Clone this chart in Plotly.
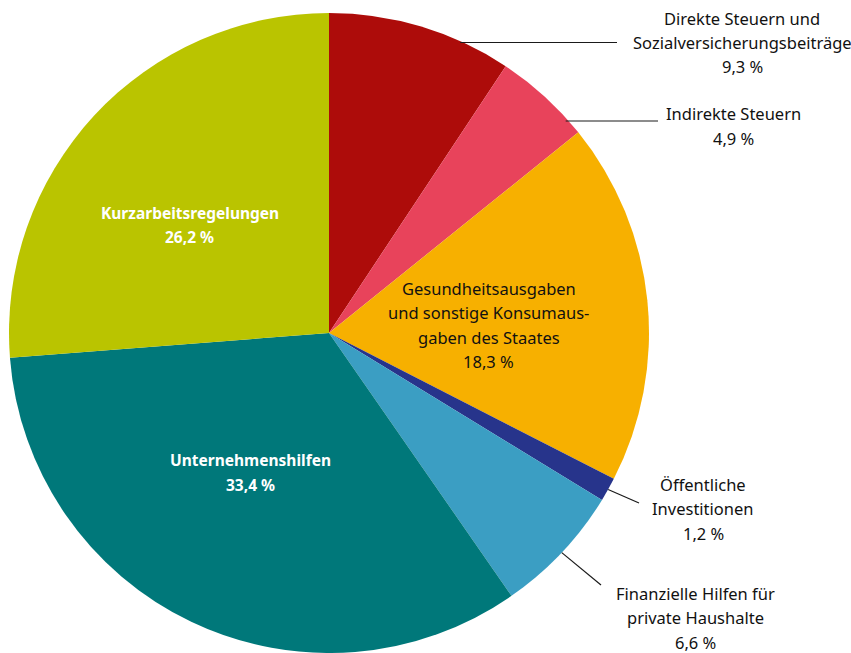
import math
import plotly.graph_objects as go

# ---- data ----
labels = [
    "Direkte Steuern und Sozialversicherungsbeiträge",
    "Indirekte Steuern",
    "Gesundheitsausgaben und sonstige Konsumausgaben des Staates",
    "Öffentliche Investitionen",
    "Finanzielle Hilfen für private Haushalte",
    "Unternehmenshilfen",
    "Kurzarbeitsregelungen",
]
label_lines = [
    ["Direkte Steuern und", "Sozialversicherungsbeiträge"],
    ["Indirekte Steuern"],
    ["Gesundheitsausgaben", "und sonstige Konsumaus-", "gaben des Staates"],
    ["Öffentliche", "Investitionen"],
    ["Finanzielle Hilfen für", "private Haushalte"],
    ["Unternehmenshilfen"],
    ["Kurzarbeitsregelungen"],
]
values = [9.3, 4.9, 18.3, 1.2, 6.6, 33.4, 26.2]

# ---- style ----
colors = ["#AD0C0A", "#E8435B", "#F7B000", "#27348B", "#3B9EC3", "#00787A", "#BAC400"]
W, H = 851, 653
CX, CY, R = 329, 333, 320
FONT = "Noto Sans"
FS = 16.5
FSB = 15.5
LH = 24.5

fig = go.Figure(go.Pie(
    labels=labels, values=values, sort=False, direction="clockwise", rotation=0,
    marker=dict(colors=colors, line=dict(width=0)),
    textinfo="none", hoverinfo="label+percent", showlegend=False,
    domain=dict(x=[(CX - R) / W, (CX + R) / W], y=[1 - (CY + R) / H, 1 - (CY - R) / H]),
))

def fmt(v):
    return ("%.1f" % v).replace(".", ",") + " %"

def px2paper(x, y):
    return x / W, 1 - y / H

total = sum(values)
mids = []
acc = 0
for v in values:
    mids.append((acc + v / 2) / total * 360)
    acc += v

annotations = []
shapes = []

def add_block(lines, cx, cy_first, col, bold):
    for k, l in enumerate(lines):
        px, py = px2paper(cx, cy_first + k * LH)
        annotations.append(dict(
            x=px, y=py, xref="paper", yref="paper",
            text=("<b>%s</b>" % l) if bold else l, showarrow=False,
            font=dict(family=FONT, size=FSB if bold else FS, color=col),
            xanchor="center", yanchor="middle"))

# inside labels: index -> (radius fraction, angle offset deg, font colour, bold)
inside = {2: (0.50, 3, "#111111", False), 5: (0.50, 4, "white", True), 6: (0.55, -5, "white", True)}
for i, (rf, dth, col, bold) in inside.items():
    th = math.radians(mids[i] + dth)
    x = CX + rf * R * math.sin(th)
    y = CY - rf * R * math.cos(th)
    lines = label_lines[i] + [fmt(values[i])]
    n = len(lines)
    add_block(lines, x, y - (n - 1) * LH / 2, col, bold)

# outside labels: index -> (text centre x, first line y, leader type, line end)
outside = {
    0: (742, 18, "h", 617),
    1: (733, 114, "h", 658),
    3: (703, 484, "d", (639, 503)),
    4: (695, 593, "d", (601, 585)),
}
for i, (tx, ty, kind, end) in outside.items():
    lines = label_lines[i] + [fmt(values[i])]
    add_block(lines, tx, ty, "#111111", False)
    if kind == "h":
        yl = ty + (LH if len(lines) > 2 else 7)
        dx = math.sqrt(R ** 2 - (yl - CY) ** 2)
        x0, y0 = CX + dx - 3, yl
        x1, y1 = end, yl
    else:
        th = math.radians(mids[i])
        x0 = CX + R * math.sin(th)
        y0 = CY - R * math.cos(th)
        x1, y1 = end
    a0 = px2paper(x0, y0)
    a1 = px2paper(x1, y1)
    shapes.append(dict(type="line", xref="paper", yref="paper", x0=a0[0], y0=a0[1],
                       x1=a1[0], y1=a1[1], line=dict(color="#1a1a1a", width=1.2)))

fig.update_layout(
    width=W, height=H, margin=dict(l=0, r=0, t=0, b=0),
    paper_bgcolor="white", plot_bgcolor="white",
    annotations=annotations, shapes=shapes,
)
fig.write_html("out.html", config={"displayModeBar": False},
               post_script="document.body.style.margin='0';")
